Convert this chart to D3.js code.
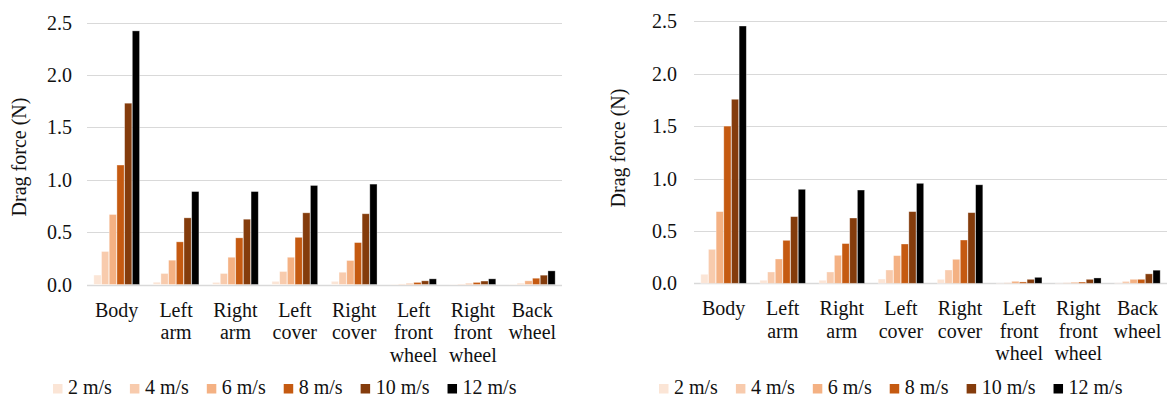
<!DOCTYPE html>
<html>
<head>
<meta charset="utf-8">
<script src="https://cdn.jsdelivr.net/npm/d3@7"></script>
<style>
  body { margin: 0; background: #fff; }
</style>
</head>
<body>
<svg width="1170" height="401"></svg>
<script>
// categories and series
var categories = ["Body", "Left arm", "Right arm", "Left cover", "Right cover",
                  "Left front wheel", "Right front wheel", "Back wheel"];
var speeds = ["2 m/s", "4 m/s", "6 m/s", "8 m/s", "10 m/s", "12 m/s"];
var colors = ["#fbe5d6", "#f8cbad", "#f4b183", "#c55a11", "#843c0c", "#000000"];
var yTicks = [0, 0.5, 1, 1.5, 2, 2.5];

// left chart, one array per speed (N)
var left2  = [0.09, 0.022, 0.02, 0.03, 0.03, 0.003, 0.002, 0.003];
var left4  = [0.315, 0.105, 0.105, 0.124, 0.117, 0.005, 0.004, 0.01];
var left6  = [0.668, 0.232, 0.26, 0.26, 0.229, 0.01, 0.01, 0.035];
var left8  = [1.14, 0.407, 0.445, 0.45, 0.40, 0.02, 0.02, 0.06];
var left10 = [1.73, 0.636, 0.623, 0.684, 0.675, 0.035, 0.033, 0.089];
var left12 = [2.42, 0.887, 0.887, 0.945, 0.958, 0.054, 0.054, 0.13];

// right chart
var right2  = [0.086, 0.029, 0.029, 0.041, 0.038, 0.003, 0.003, 0.004];
var right4  = [0.324, 0.108, 0.108, 0.127, 0.127, 0.005, 0.005, 0.018];
var right6  = [0.684, 0.232, 0.267, 0.264, 0.229, 0.019, 0.01, 0.038];
var right8  = [1.50, 0.41, 0.379, 0.375, 0.413, 0.013, 0.012, 0.038];
var right10 = [1.756, 0.636, 0.623, 0.684, 0.674, 0.038, 0.038, 0.09];
var right12 = [2.455, 0.897, 0.89, 0.954, 0.94, 0.057, 0.051, 0.125];

// pick a Times-like font if one is installed
var ctx = document.createElement("canvas").getContext("2d");
function hasFont(f) {
  var s = "Drag force (N) 2.5 wheel";
  ctx.font = "20px monospace"; var a = ctx.measureText(s).width;
  ctx.font = "20px '" + f + "', monospace"; var b = ctx.measureText(s).width;
  return a !== b;
}
var serif = ["Liberation Serif", "Times New Roman", "Tinos", "Noto Serif", "DejaVu Serif"]
  .filter(hasFont)[0];
var FONT = serif ? "'" + serif + "', serif" : "'Liberation Sans', Arial, sans-serif";
var FS = serif ? 20 : 19;

var svg = d3.select("svg");

var panels = [
  { values: [left2, left4, left6, left8, left10, left12],
    x0: 87, x1: 562, yTop: 22.5, yBot: 284.5, tickX: 72, titleX: 26, titleY: 157, legendX: 53 },
  { values: [right2, right4, right6, right8, right10, right12],
    x0: 694, x1: 1167, yTop: 21.3, yBot: 283.3, tickX: 677, titleX: 625, titleY: 148, legendX: 659 }
];

panels.forEach(function(p) {
  var g = svg.append("g").attr("font-family", FONT).attr("font-size", FS);

  var y = d3.scaleLinear().domain([0, 2.5]).range([p.yBot, p.yTop]);
  var x = d3.scaleBand().domain(categories).range([p.x0, p.x1]).padding(0);
  var step = x.bandwidth();
  var xs = d3.scaleBand().domain(speeds)
    .range([step * 0.115, step * 0.885]).paddingInner(0.06);

  // gridlines
  g.selectAll(".grid").data(yTicks).enter().append("line")
    .attr("x1", p.x0).attr("x2", p.x1)
    .attr("y1", function(d) { return Math.round(y(d)) + 0.5; })
    .attr("y2", function(d) { return Math.round(y(d)) + 0.5; })
    .attr("stroke", "#d9d9d9").attr("stroke-width", function(d) { return d === 0 ? 1.5 : 1; });

  // tick labels
  g.selectAll(".tick").data(yTicks).enter().append("text")
    .attr("x", p.tickX).attr("y", function(d) { return y(d); })
    .attr("dy", "0.35em").attr("text-anchor", "end").attr("fill", "#111")
    .text(function(d) { return d.toFixed(1); });

  // bars
  var groups = g.selectAll(".cat").data(categories).enter().append("g")
    .attr("transform", function(d) { return "translate(" + x(d) + ",0)"; });

  groups.selectAll("rect")
    .data(function(c, i) {
      return speeds.map(function(s, k) { return { s: s, k: k, v: p.values[k][i] }; });
    })
    .enter().append("rect")
    .attr("x", function(d) { return xs(d.s); })
    .attr("width", xs.bandwidth())
    .attr("y", function(d) { return y(d.v); })
    .attr("height", function(d) { return y(0) - y(d.v); })
    .attr("fill", function(d) { return colors[d.k]; })
    .attr("stroke", "#ffffff").attr("stroke-opacity", 0.45).attr("stroke-width", 0.75);

  // category labels (one word per line)
  groups.append("text")
    .attr("x", step / 2).attr("text-anchor", "middle").attr("fill", "#111")
    .selectAll("tspan")
    .data(function(d) { return d.split(" "); })
    .enter().append("tspan")
    .attr("x", step / 2)
    .attr("y", function(d, i) { return p.yBot + 32 + i * 22.5; })
    .text(function(d) { return d; });

  // y-axis title
  g.append("text")
    .attr("transform", "translate(" + p.titleX + "," + p.titleY + ") rotate(-90)")
    .attr("text-anchor", "middle").attr("fill", "#111")
    .text("Drag force (N)");

  // legend
  var lx = p.legendX;
  speeds.forEach(function(s, k) {
    g.append("rect")
      .attr("x", lx).attr("y", 384).attr("width", 9.5).attr("height", 9.5)
      .attr("fill", colors[k]);
    var t = g.append("text")
      .attr("x", lx + 15).attr("y", 394).attr("fill", "#111")
      .text(s);
    lx += 15 + t.node().getComputedTextLength() + 18;
  });
});
</script>
</body>
</html>
